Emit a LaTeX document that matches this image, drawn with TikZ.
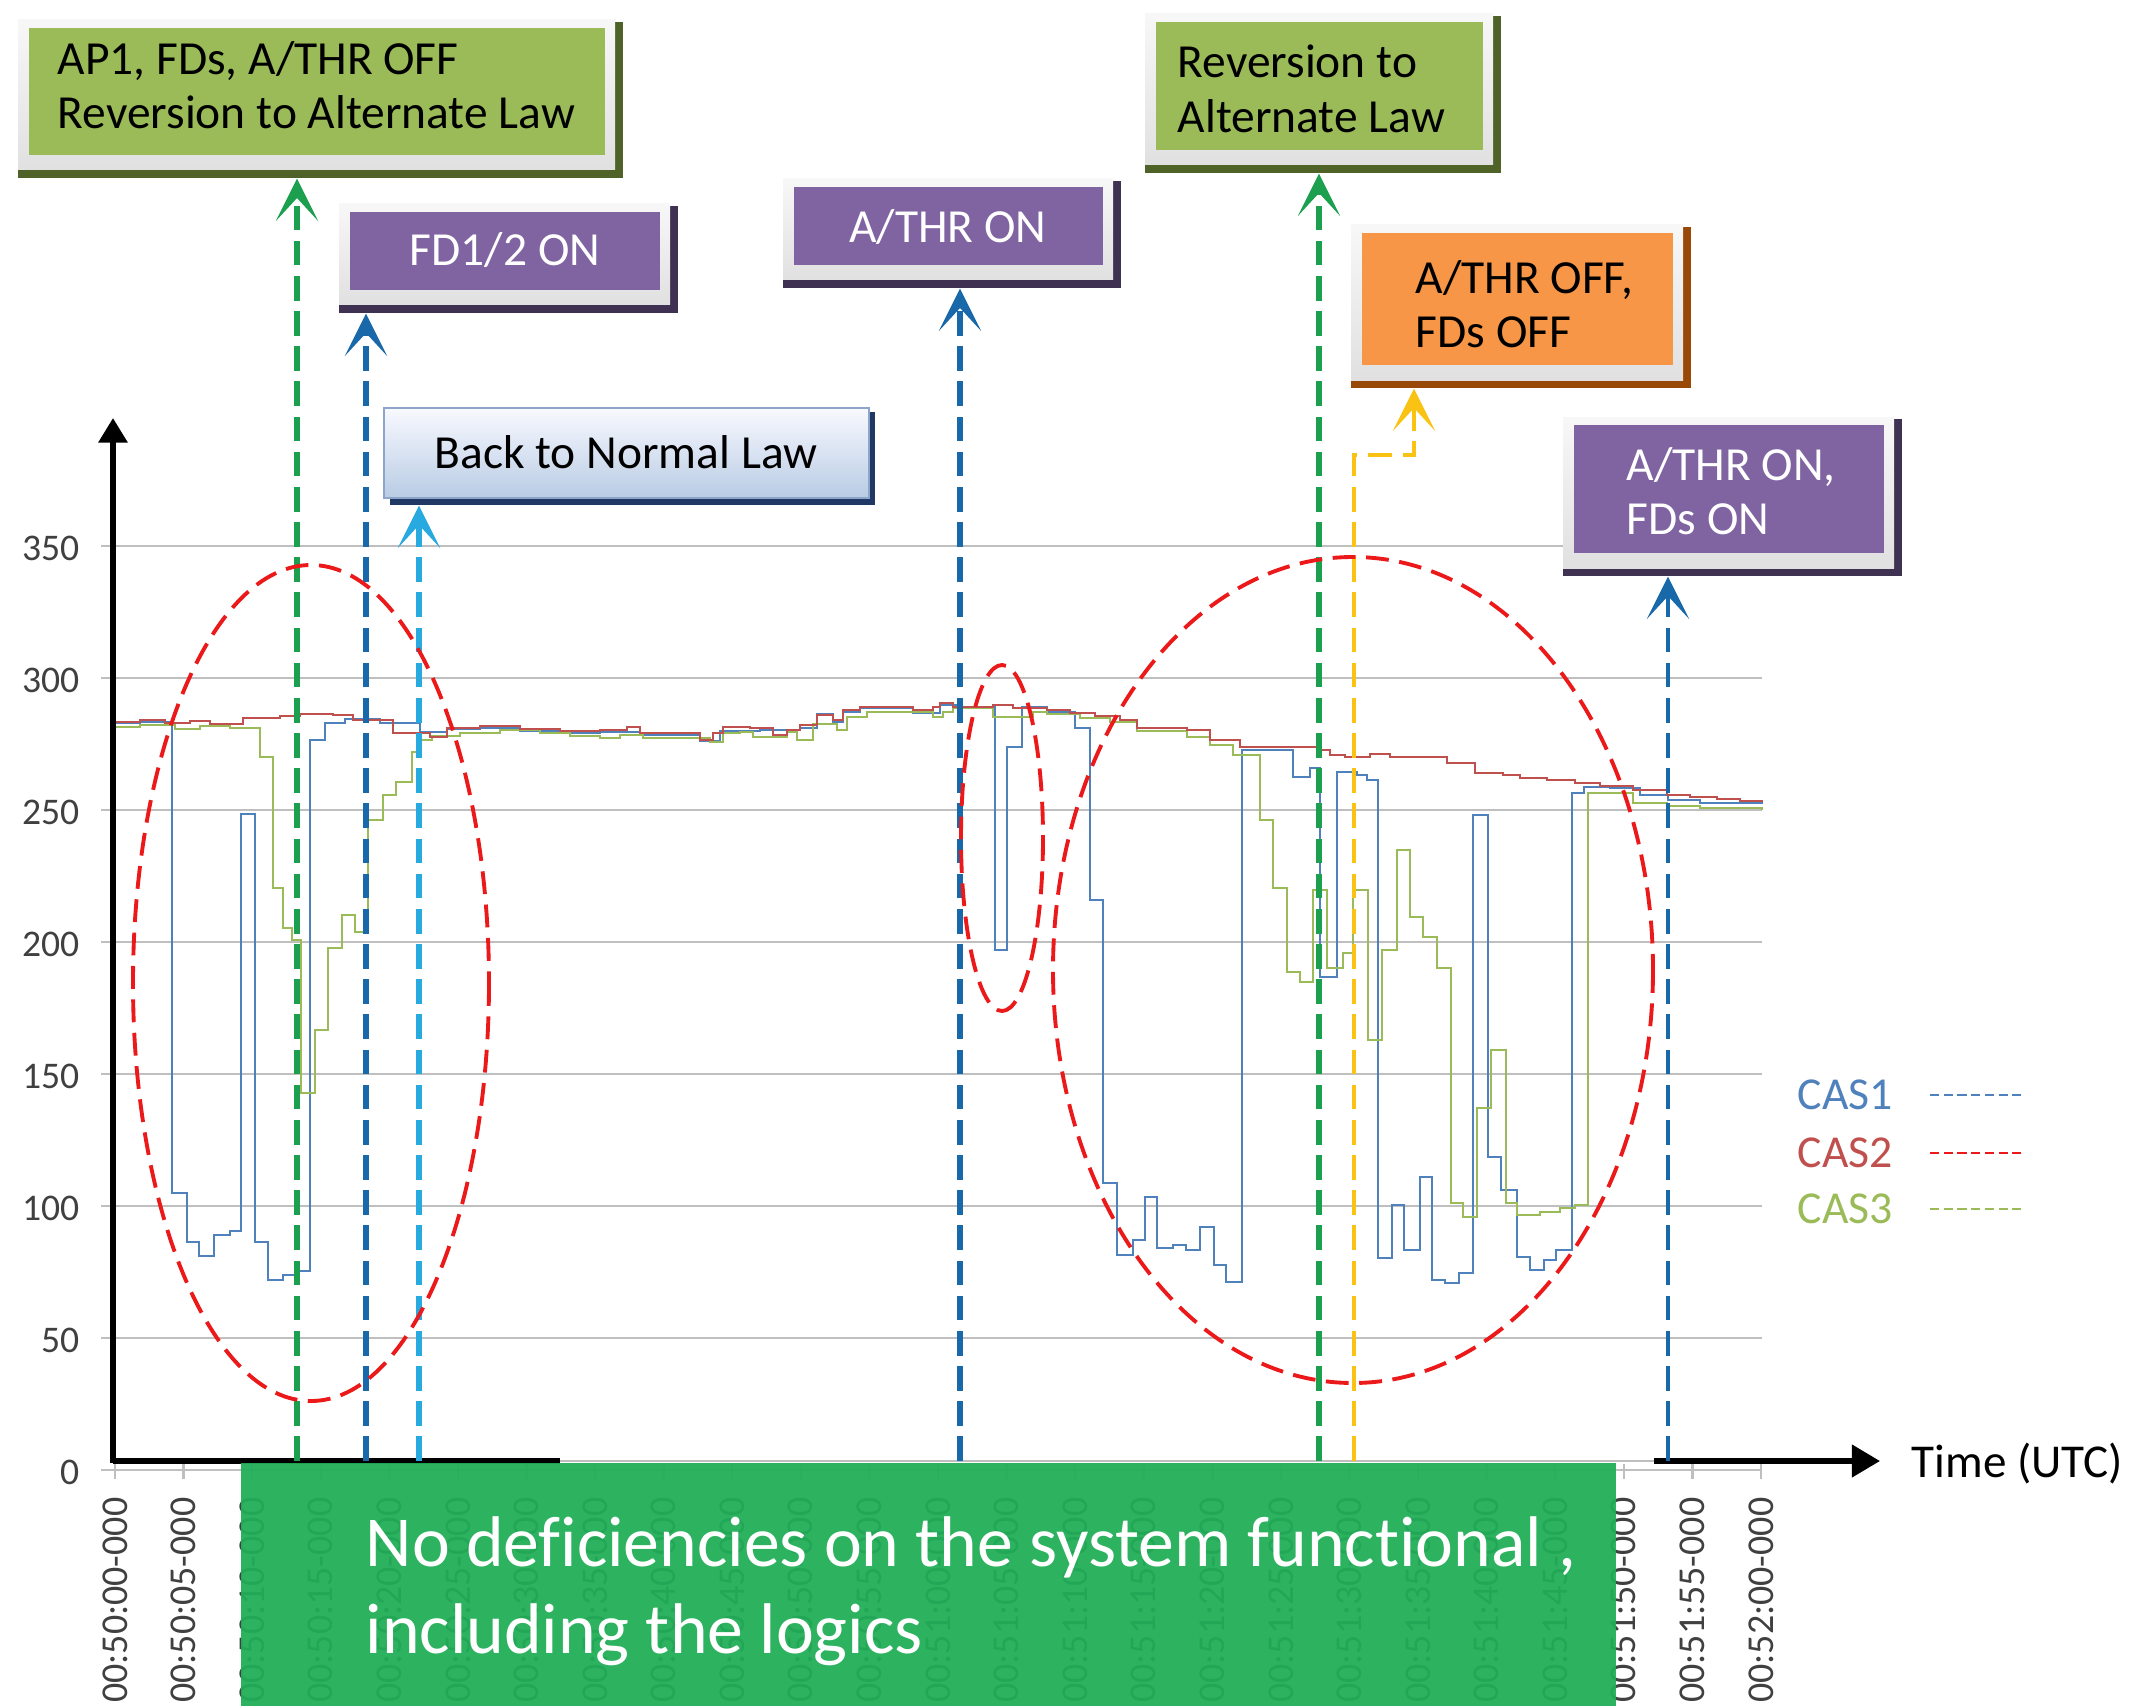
\documentclass[tikz,border=0pt]{standalone}
\usepackage{fontspec}
\setmainfont{Carlito}[Ligatures=NoCommon]
\usetikzlibrary{arrows.meta,fit}

\definecolor{casblue}{RGB}{79,129,189}
\definecolor{casred}{RGB}{192,80,77}
\definecolor{casgreen}{RGB}{155,187,89}
\definecolor{gridgray}{RGB}{191,191,191}
\definecolor{labelgray}{RGB}{64,64,64}
\definecolor{olivefill}{RGB}{155,187,89}
\definecolor{oliveshade}{RGB}{79,98,40}
\definecolor{violetfill}{RGB}{128,100,162}
\definecolor{violetshade}{RGB}{63,49,81}
\definecolor{amberfill}{RGB}{247,150,70}
\definecolor{ambershade}{RGB}{152,72,7}
\definecolor{evgreen}{RGB}{28,160,80}
\definecolor{evblue}{RGB}{25,105,170}
\definecolor{evsky}{RGB}{40,170,225}
\definecolor{evyellow}{RGB}{250,195,20}
\definecolor{ringred}{RGB}{235,25,25}
\definecolor{notegreen}{RGB}{32,174,87}
\definecolor{navyshade}{RGB}{31,56,100}

% raised panel: dark shadow, light frame, coloured face; #1 name,
% #2..#5 face corners (x0,y0,x1,y1), #6 face colour, #7 shadow colour
\newcommand{\raisedpanel}[7]{%
  \fill[#7] (#2-11,#3-6) rectangle (#4+18,#5+23);
  \shade[top color=white!97!black, bottom color=white!88!black]
    (#2-11,#3-8) rectangle (#4+10,#5+15);
  \fill[#6] (#2,#3) rectangle (#4,#5);
  \node[fit={(#2-11,#3-8) (#4+18,#5+23)}, inner sep=0pt] (#1) {};
}

\tikzset{
  grid line/.style={gridgray, line width=0.7pt},
  axis line/.style={black, line width=1.6pt},
  cas line/.style={line width=0.65pt, line join=miter},
  event/.style={line width=1.5pt, dash pattern=on 7pt off 3pt,
    -{Stealth[length=12pt,width=12pt,inset=6.5pt]}},
  ringline/.style={ringred, line width=1.1pt, dash pattern=on 6.5pt off 3pt},
  panel text/.style={font=\fontsize{13.5}{15.5}\selectfont, align=left, inner sep=0pt},
  tick label/.style={font=\fontsize{10.8}{12}\selectfont, text=labelgray,
    rotate=90, anchor=east, inner sep=0pt},
  value label/.style={font=\fontsize{10.7}{12}\selectfont, text=labelgray,
    anchor=east, inner sep=0pt},
  legend label/.style={font=\fontsize{13}{15}\selectfont, anchor=west, inner sep=0pt},
  legend dash/.style={line width=0.8pt, dash pattern=on 2.6pt off 1.3pt},
}

\begin{document}
\begin{tikzpicture}[x=0.01cm, y=-0.01cm]
\useasboundingbox (0,0) rectangle (2151,1706);
\fill[white] (0,0) rectangle (2151,1706);

% value grid and labels
\foreach \v in {50,100,...,350}
  \draw[grid line] (101,1470-2.64*\v) -- (1762,1470-2.64*\v);
\draw[grid line] (101,1470) -- (1762,1470);
\foreach \v in {0,50,...,350}
  \node[value label] (val\v) at (80,1472-2.64*\v) {\v};

% time ticks and labels
\foreach \lab [count=\i from 0] in {50:00,50:05,50:10,50:15,50:20,50:25,50:30,50:35,50:40,
    50:45,50:50,50:55,51:00,51:05,51:10,51:15,51:20,51:25,51:30,51:35,51:40,51:45,51:50,51:55,52:00} {
  \draw[grid line] (115+68.58*\i,1464) -- (115+68.58*\i,1479);
  \node[tick label] (tick\i) at (115+68.58*\i,1497) {00:\lab-000};
}

% CAS1
\draw[cas line, casblue] (113,723) -| (140,722) -| (172,1193) -| (187,1242) -| (199,1256) -| (214,1235)
 -| (230,1231) -| (241,814) -| (255,1242) -| (268,1280) -| (283,1275) -| (297,1271) -| (310,740)
 -| (325,723) -| (345,719) -| (380,723) -| (420,732) -| (447,729) -| (480,728) -| (520,731) -| (560,733)
 -| (600,732) -| (640,735) -| (700,741) -| (720,731) -| (760,730) -| (787,730) -| (800,728) -| (817,714)
 -| (833,722) -| (843,712) -| (860,708) -| (913,713) -| (940,705) -| (960,707) -| (995,950) -| (1007,747)
 -| (1022,707) -| (1047,712) -| (1075,728) -| (1090,900) -| (1103,1183) -| (1117,1255) -| (1133,1240)
 -| (1145,1197) -| (1157,1248) -| (1173,1245) -| (1186,1250) -| (1200,1227) -| (1214,1265) -| (1226,1282)
 -| (1242,750) -| (1293,777) -| (1310,768) -| (1320,977) -| (1337,772) -| (1357,775) -| (1367,780)
 -| (1378,1258) -| (1392,1205) -| (1404,1250) -| (1420,1177) -| (1432,1280) -| (1445,1283) -| (1459,1273)
 -| (1473,815) -| (1488,1157) -| (1501,1190) -| (1517,1257) -| (1530,1270) -| (1544,1260) -| (1556,1250)
 -| (1572,793) -| (1584,787) -| (1610,788) -| (1640,795) -| (1668,800) -| (1700,803) -| (1762,804);

% CAS3
\draw[cas line, casgreen] (113,727) -| (140,725) -| (175,729) -| (200,726) -| (230,728) -| (260,757)
 -| (273,888) -| (283,928) -| (292,940) -| (301,1093) -| (315,1030) -| (328,948) -| (342,915) -| (355,932)
 -| (368,820) -| (383,795) -| (396,782) -| (412,752) -| (420,740) -| (432,736) -| (460,733) -| (500,730)
 -| (540,733) -| (570,736) -| (600,738) -| (620,735) -| (643,738) -| (710,742) -| (723,733) -| (740,732)
 -| (753,737) -| (787,732) -| (797,740) -| (813,724) -| (837,730) -| (847,717) -| (867,712) -| (933,717)
 -| (943,712) -| (953,708) -| (993,717) -| (1033,712) -| (1047,714) -| (1080,718) -| (1110,722) -| (1137,731)
 -| (1187,737) -| (1210,745) -| (1233,755) -| (1260,820) -| (1273,888) -| (1287,972) -| (1300,982)
 -| (1313,890) -| (1327,968) -| (1343,953) -| (1353,890) -| (1368,1040) -| (1382,950) -| (1397,850)
 -| (1410,917) -| (1423,937) -| (1437,968) -| (1451,1203) -| (1463,1217) -| (1477,1108) -| (1491,1050)
 -| (1506,1203) -| (1517,1215) -| (1540,1212) -| (1560,1208) -| (1575,1205) -| (1588,793) -| (1633,803)
 -| (1667,806) -| (1700,808) -| (1762,810);

% CAS2
\draw[cas line, casred] (113,722) -| (140,720) -| (165,723) -| (190,721) -| (210,724) -| (243,718)
 -| (280,716) -| (300,714) -| (333,715) -| (353,720) -| (393,733) -| (430,737) -| (447,728) -| (480,726)
 -| (520,729) -| (560,731) -| (600,730) -| (627,727) -| (640,733) -| (700,740) -| (713,733) -| (723,727)
 -| (750,728) -| (773,735) -| (787,730) -| (800,725) -| (817,715) -| (833,720) -| (843,710) -| (860,707)
 -| (913,710) -| (933,707) -| (940,703) -| (953,707) -| (993,705) -| (1013,708) -| (1047,710) -| (1070,713)
 -| (1095,716) -| (1120,720) -| (1137,728) -| (1187,730) -| (1210,740) -| (1240,747) -| (1320,750)
 -| (1330,755) -| (1345,757) -| (1370,754) -| (1390,757) -| (1420,757) -| (1447,763) -| (1475,773)
 -| (1503,775) -| (1520,778) -| (1547,780) -| (1575,783) -| (1600,786) -| (1633,790) -| (1667,795)
 -| (1690,797) -| (1717,799) -| (1740,801) -| (1762,802);

% axes
\coordinate (origin) at (113,1463);
\coordinate (ytop) at (113,418);
\draw[axis line, -{Triangle[length=7pt,width=8pt]}] (origin) -- (ytop);
\coordinate (xa) at (113,1461);
\coordinate (xb) at (560,1461);
\coordinate (xc) at (1654,1461);
\coordinate (xtip) at (1880,1461);
\draw[axis line] (xa) -- (xb);
\draw[grid line] (xb) -- (xc);
\draw[axis line, -{Triangle[length=8pt,width=9pt]}] (xc) -- (xtip);
\node[anchor=west, font=\fontsize{13.4}{15}\selectfont, inner sep=0pt] (timelab) at (1911,1464) {Time (UTC)};

% conclusion banner
\node[fit={(241,1463) (1616,1706)}, inner sep=0pt, fill=notegreen, fill opacity=0.94] (note) {};
\node[font=\fontsize{20.4}{24.7}\selectfont, text=white, align=left, anchor=west, inner sep=0pt]
  (notetext) at (365,1591) {No deficiencies on the system functional ,\\including the logics};

% event panels
\raisedpanel{pA}{29}{28}{605}{155}{olivefill}{oliveshade}
\raisedpanel{pB}{350}{212}{660}{290}{violetfill}{violetshade}
\raisedpanel{pC}{794}{187}{1103}{265}{violetfill}{violetshade}
\raisedpanel{pD}{1156}{22}{1483}{150}{olivefill}{oliveshade}
\raisedpanel{pE}{1362}{233}{1673}{365}{amberfill}{ambershade}
\raisedpanel{pF}{1574}{425}{1884}{553}{violetfill}{violetshade}
\fill[navyshade] (390,412) rectangle (875,505);
\shadedraw[top color=white!96!blue!60!white, bottom color={rgb,255:red,184;green,204;blue,228},
  draw={rgb,255:red,140;green,165;blue,200}, line width=0.5pt] (384,408) rectangle (869,498);
\node[fit={(384,408) (875,505)}, inner sep=0pt] (pG) {};

\node[panel text, anchor=west] (tA) at (57,85) {AP1, FDs, A/THR OFF\\Reversion to Alternate Law};
\node[panel text, text=white] (tB) at (505,250) {FD1/2 ON};
\node[panel text, text=white] (tC) at (948,227) {A/THR ON};
\node[panel text, anchor=west] (tD) at (1177,89) {Reversion to\\Alternate Law};
\node[panel text, anchor=west] (tE) at (1415,304) {A/THR OFF,\\FDs OFF};
\node[panel text, anchor=west, text=white] (tF) at (1626,491) {A/THR ON,\\FDs ON};
\node[panel text] (tG) at (626,452) {Back to Normal Law};

% event markers
\coordinate (aA) at (297,1461);
\coordinate (aB) at (366,1461);
\coordinate (aG) at (419,1461);
\coordinate (aC) at (960,1461);
\coordinate (aD) at (1319,1461);
\coordinate (aE) at (1354,1461);
\coordinate (bendE1) at (1354,455);
\coordinate (bendE2) at (1414,455);
\coordinate (aF) at (1668,1461);
\draw[event, evgreen] (aA) -- (aA |- pA.south);
\draw[event, evblue] (aB) -- (aB |- pB.south);
\draw[event, evsky] (aG) -- (aG |- pG.south);
\draw[event, evblue] (aC) -- (aC |- pC.south);
\draw[event, evgreen] (aD) -- (aD |- pD.south);
\draw[event, evyellow, line width=1.2pt] (aE) -- (bendE1) -- (bendE2) -- (bendE2 |- pE.south);
\draw[event, evblue, line width=1.2pt] (aF) -- (aF |- pF.south);

% highlighted zones
\draw[ringline] (311,983) ellipse [x radius=178, y radius=418];
\draw[ringline] (1002,838) ellipse [x radius=41, y radius=173];
\draw[ringline] (1353,970) ellipse [x radius=300, y radius=413];

% legend
\node[legend label, text=casblue] (leg1) at (1797,1095) {CAS1};
\node[legend label, text=casred] (leg2) at (1797,1153) {CAS2};
\node[legend label, text=casgreen] (leg3) at (1797,1209) {CAS3};
\coordinate (leg1a) at (1930,1095); \coordinate (leg1b) at (2025,1095);
\coordinate (leg2a) at (1930,1153); \coordinate (leg2b) at (2025,1153);
\coordinate (leg3a) at (1930,1209); \coordinate (leg3b) at (2025,1209);
\draw[legend dash, casblue] (leg1a) -- (leg1b);
\draw[legend dash, ringred] (leg2a) -- (leg2b);
\draw[legend dash, casgreen] (leg3a) -- (leg3b);
\end{tikzpicture}
\end{document}
